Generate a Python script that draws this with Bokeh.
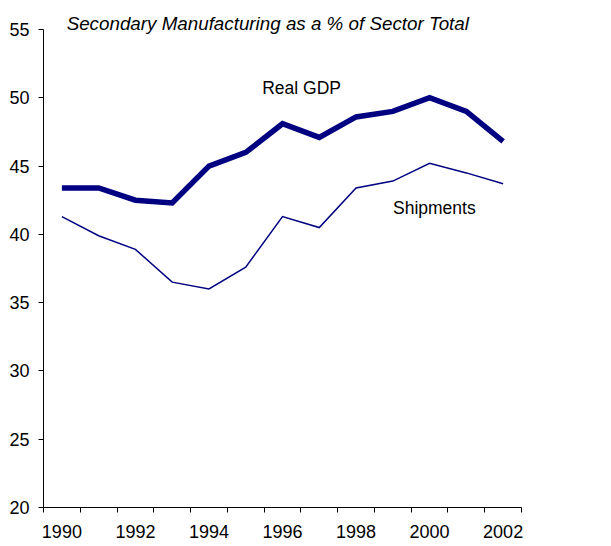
from bokeh.plotting import figure
from bokeh.models import FixedTicker, Label, Range1d
from bokeh.embed import file_html
from bokeh.resources import INLINE

years = list(range(1990, 2003))
real_gdp = [43.4, 43.4, 42.5, 42.3, 45.0, 46.0, 48.1, 47.1, 48.6, 49.0, 50.0, 49.0, 46.8]
shipments = [41.3, 39.9, 38.9, 36.5, 36.0, 37.6, 41.3, 40.5, 43.4, 43.9, 45.2, 44.5, 43.7]
x_tick_labels = [1990, 1992, 1994, 1996, 1998, 2000, 2002]
y_ticks = [20, 25, 30, 35, 40, 45, 50, 55]

FONT = "Liberation Sans"
NAVY = "#000080"

# frame: 20..55 spans 478px; extra headroom above 55 holds the title
px_per_unit = 478 / 35.0
y_top = 55 + 21 / px_per_unit

p = figure(width=611, height=546, output_backend="svg", toolbar_location=None,
           x_range=Range1d(1989.5, 2002.5), y_range=Range1d(20, y_top),
           min_border_left=43, min_border_right=90, min_border_top=8, min_border_bottom=39)
p.outline_line_color = None
p.xgrid.grid_line_color = None
p.ygrid.grid_line_color = None
p.background_fill_color = "white"
p.border_fill_color = "white"

p.line(years, real_gdp, line_color=NAVY, line_width=5.5, line_join="miter")
p.line(years, shipments, line_color=NAVY, line_width=1.5, line_join="miter")

xa = p.xaxis[0]
xa.ticker = FixedTicker(ticks=x_tick_labels,
                        minor_ticks=[y - 0.5 for y in years] + [2002.5])
xa.major_tick_out = 0
xa.major_tick_in = 0
xa.minor_tick_out = 5
xa.minor_tick_in = 0
xa.minor_tick_line_color = "black"
xa.axis_line_color = "black"
xa.major_label_text_font = FONT
xa.major_label_text_font_size = "18px"
xa.major_label_text_color = "black"
xa.major_label_standoff = 12

ya = p.yaxis[0]
ya.ticker = FixedTicker(ticks=y_ticks)
ya.bounds = (20, 55)
ya.major_tick_out = 5
ya.major_tick_in = 0
ya.minor_tick_out = 0
ya.minor_tick_in = 0
ya.axis_line_color = "black"
ya.major_label_text_font = FONT
ya.major_label_text_font_size = "18px"
ya.major_label_text_color = "black"
ya.major_label_standoff = 9

p.add_layout(Label(x=1995.6, y=55.45, text="Secondary Manufacturing as a % of Sector Total",
                   text_font=FONT, text_font_size="18.8px", text_font_style="italic",
                   text_align="center", text_baseline="middle", text_color="black"))
p.add_layout(Label(x=1996.52, y=50.7, text="Real GDP", text_font=FONT,
                   text_font_size="17.5px", text_align="center", text_baseline="middle",
                   text_color="black"))
p.add_layout(Label(x=2000.13, y=41.95, text="Shipments", text_font=FONT,
                   text_font_size="17.5px", text_align="center", text_baseline="middle",
                   text_color="black"))

open("out.html", "w").write(file_html(p, INLINE))
